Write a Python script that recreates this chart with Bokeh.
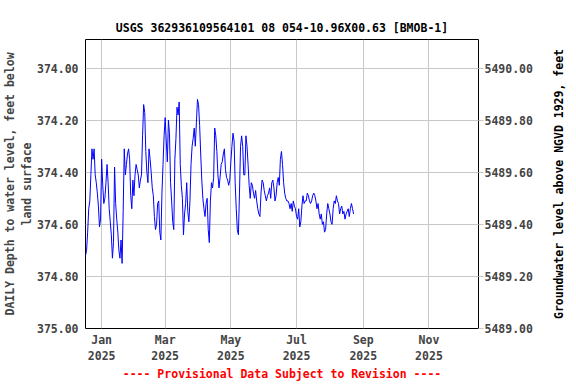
import math
import pandas as pd
from bokeh.plotting import figure
from bokeh.layouts import row
from bokeh.models import Range1d, LinearAxis, FixedTicker, NumeralTickFormatter
from bokeh.core.properties import value
from bokeh.embed import file_html
from bokeh.resources import INLINE

title_text = "USGS 362936109564101 08 054-10.96X00.63 [BMOB-1]"
left_label = "DAILY Depth to water level, feet below\nland surface"
right_label = "Groundwater level above NGVD 1929, feet"
bottom_note = "---- Provisional Data Subject to Revision ----"

start_date = "2024-12-17"
range_start = "2024-12-17"
range_end = "2025-12-17"

# daily depth to water, feet below land surface
depth_ft = [
    374.72, 374.70, 374.63, 374.54, 374.51, 374.41, 374.31, 374.35, 374.31, 374.41,
    374.44, 374.48, 374.53, 374.61, 374.58, 374.35, 374.45, 374.52, 374.50, 374.44,
    374.37, 374.44, 374.54, 374.59, 374.64, 374.73, 374.67, 374.38, 374.52, 374.58,
    374.63, 374.70, 374.73, 374.66, 374.75, 374.55, 374.31, 374.41, 374.37, 374.33,
    374.31, 374.35, 374.49, 374.54, 374.43, 374.49, 374.41, 374.37, 374.39, 374.41,
    374.46, 374.43, 374.41,
    374.26, 374.14, 374.17, 374.32, 374.40, 374.44, 374.31, 374.35, 374.40, 374.46,
    374.49, 374.57, 374.62, 374.60, 374.52, 374.51, 374.63, 374.66, 374.48, 374.37,
    374.26, 374.19, 374.28, 374.36, 374.20, 374.25, 374.44, 374.51, 374.59, 374.62,
    374.35, 374.27, 374.15, 374.18, 374.13, 374.37, 374.45, 374.50, 374.64, 374.56,
    374.52, 374.44, 374.55, 374.59, 374.51, 374.37, 374.30, 374.27, 374.23, 374.30,
    374.21, 374.12, 374.14, 374.22, 374.33, 374.43, 374.50, 374.54, 374.57, 374.52,
    374.50, 374.62, 374.67, 374.51, 374.44, 374.46, 374.42, 374.23, 374.26, 374.32,
    374.41, 374.46, 374.42, 374.37, 374.36, 374.33, 374.31, 374.39, 374.42, 374.43,
    374.45, 374.43, 374.36, 374.30, 374.25, 374.28, 374.44, 374.54, 374.62, 374.64,
    374.48, 374.30, 374.26, 374.30, 374.41, 374.41, 374.26, 374.30, 374.37, 374.45,
    374.50, 374.44,
    374.45, 374.48, 374.50, 374.47, 374.51, 374.54, 374.56, 374.57, 374.48, 374.43,
    374.44, 374.47, 374.49, 374.51, 374.49, 374.48, 374.46, 374.50, 374.44, 374.43,
    374.46, 374.51, 374.49, 374.44, 374.42, 374.45, 374.35, 374.32, 374.37, 374.44,
    374.48, 374.50, 374.51, 374.51, 374.52, 374.54, 374.52, 374.55, 374.51, 374.53,
    374.54, 374.57, 374.58, 374.54, 374.61, 374.59, 374.53, 374.49, 374.52, 374.51,
    374.51, 374.48, 374.49, 374.51, 374.52, 374.51, 374.49, 374.48, 374.49, 374.51,
    374.54, 374.52, 374.56, 374.58, 374.56, 374.60, 374.59, 374.63, 374.62, 374.56,
    374.52, 374.54, 374.56, 374.59, 374.60, 374.54, 374.51, 374.52, 374.49, 374.51,
    374.52, 374.56, 374.54, 374.53, 374.56, 374.55, 374.58, 374.56, 374.55, 374.54,
    374.57, 374.54, 374.52, 374.54, 374.56,
]

depth_ticks = [374.0, 374.2, 374.4, 374.6, 374.8, 375.0]
elev_ticks = [5489.0, 5489.2, 5489.4, 5489.6, 5489.8, 5490.0]
month_ticks = ["2025-01-01", "2025-03-01", "2025-05-01", "2025-07-01", "2025-09-01", "2025-11-01"]
month_labels = ["Jan\n2025", "Mar\n2025", "May\n2025", "Jul\n2025", "Sep\n2025", "Nov\n2025"]
depth_top = 373.89
depth_bottom = 375.0
land_surface_elev = 5864.0  # elevation = land surface - depth

dates = pd.date_range(start_date, periods=len(depth_ft), freq="D")

FONT = "DejaVu Sans Mono"
FS = "11.5px"
GRID = "#c8c8c8"
BORDER_TOP = 39
BORDER_BOTTOM = 56

p = figure(width=544, height=384, x_axis_type="datetime",
           output_backend="svg", toolbar_location=None,
           x_range=Range1d(pd.Timestamp(range_start), pd.Timestamp(range_end)),
           y_range=Range1d(depth_bottom, depth_top),
           min_border_left=85, min_border_right=66,
           min_border_top=BORDER_TOP, min_border_bottom=BORDER_BOTTOM)

p.background_fill_color = "white"
p.border_fill_color = "white"
p.outline_line_color = "black"
p.outline_line_width = 1

p.line(dates, depth_ft, line_color="#0000ff", line_width=1)

# title
p.title.text = title_text
p.title.align = "center"
p.title.text_font = FONT
p.title.text_font_size = FS
p.title.text_font_style = "bold"
p.title.text_color = "black"

# left axis
ya = p.yaxis[0]
ya.ticker = FixedTicker(ticks=depth_ticks)
ya.formatter = NumeralTickFormatter(format="0.00")
ya.axis_label = left_label
ya.axis_line_color = None
ya.major_tick_line_color = None
ya.minor_tick_line_color = None
ya.major_tick_out = 0
ya.major_tick_in = 0
ya.major_label_standoff = 7
ya.axis_label_standoff = 0
ya.major_label_text_font = FONT
ya.major_label_text_font_size = FS
ya.major_label_text_font_style = "bold"
ya.axis_label_text_font = FONT
ya.axis_label_text_font_size = FS
ya.axis_label_text_font_style = "bold"

# right axis
p.extra_y_ranges = {"elev": Range1d(land_surface_elev - depth_bottom, land_surface_elev - depth_top)}
ra = LinearAxis(y_range_name="elev", ticker=FixedTicker(ticks=elev_ticks),
                formatter=NumeralTickFormatter(format="0.00"))
ra.axis_line_color = None
ra.major_tick_line_color = GRID
ra.major_tick_out = 5
ra.major_tick_in = 0
ra.minor_tick_line_color = None
ra.major_label_standoff = 1
ra.major_label_text_font = FONT
ra.major_label_text_font_size = FS
ra.major_label_text_font_style = "bold"
p.add_layout(ra, "right")

# bottom axis
tick_ms = [int(pd.Timestamp(t).value // 10**6) for t in month_ticks]
xa = p.xaxis[0]
xa.ticker = FixedTicker(ticks=tick_ms)
xa.major_label_overrides = {k: v for k, v in zip(tick_ms, month_labels)}
xa.axis_line_color = None
xa.major_tick_line_color = None
xa.minor_tick_line_color = None
xa.major_tick_out = 0
xa.major_tick_in = 0
xa.major_label_standoff = 4
xa.major_label_text_font = FONT
xa.major_label_text_font_size = FS
xa.major_label_text_font_style = "bold"
xa.axis_label = bottom_note
xa.axis_label_standoff = 1
xa.axis_label_text_font = FONT
xa.axis_label_text_font_size = FS
xa.axis_label_text_font_style = "bold"
xa.axis_label_text_color = "red"

p.xgrid.grid_line_color = GRID
p.ygrid.grid_line_color = GRID
p.xgrid.grid_line_width = 1
p.ygrid.grid_line_width = 1

# narrow strip holding the right-hand axis title, reading bottom to top
p2 = figure(width=32, height=384, output_backend="svg", toolbar_location=None,
            x_range=Range1d(0, 1), y_range=Range1d(depth_bottom, depth_top),
            min_border_left=0, min_border_right=0,
            min_border_top=BORDER_TOP, min_border_bottom=BORDER_BOTTOM)
p2.axis.visible = False
p2.grid.visible = False
p2.outline_line_color = None
p2.background_fill_color = "white"
p2.border_fill_color = "white"
p2.text(x=[0.45], y=[(depth_top + depth_bottom) / 2], text=[right_label],
        angle=math.pi / 2, text_align="center", text_baseline="middle",
        text_font=value(FONT), text_font_size=FS, text_font_style="bold",
        text_color="black")

layout = row(p, p2)
open("out.html", "w").write(file_html(layout, INLINE))
